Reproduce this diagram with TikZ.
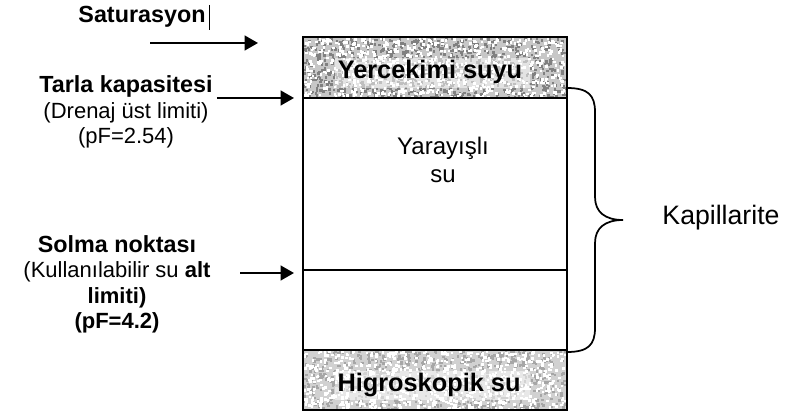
\documentclass[tikz,border=0pt]{standalone}
\usepackage{fontspec}
\setmainfont{Liberation Sans}
\usetikzlibrary{arrows.meta}
\begin{document}
\begin{tikzpicture}[x=0.75pt,y=-0.75pt,
  lbl/.style={font=\fontsize{17.5}{20}\selectfont\bfseries, inner sep=0pt, anchor=center},
  sub/.style={font=\fontsize{16.5}{19}\selectfont, inner sep=0pt, anchor=center},
  band/.style={font=\fontsize{19}{22}\selectfont\bfseries, inner sep=0pt},
  arr/.style={line width=1.6pt, -{Triangle[length=10pt,width=11pt]}},
  boxline/.style={line width=1.2pt}]
\useasboundingbox (0,0) rectangle (787,416);
% textured bands
\fill[black!22] (303,37) rectangle (567,98);
\fill[black!18] (303,350) rectangle (567,410);
\pgfmathsetseed{7}
\foreach \i in {1,...,1000}{
  \pgfmathsetmacro{\xx}{303+rnd*261}
  \pgfmathsetmacro{\yy}{37+rnd*59}
  \fill[black!50] (\xx,\yy) rectangle +(2.5,2.5);
}
\foreach \i in {1,...,700}{
  \pgfmathsetmacro{\xx}{303+rnd*261}
  \pgfmathsetmacro{\yy}{37+rnd*59}
  \fill[white] (\xx,\yy) rectangle +(2.5,2.5);
}
\foreach \i in {1,...,800}{
  \pgfmathsetmacro{\xx}{303+rnd*261}
  \pgfmathsetmacro{\yy}{350+rnd*58}
  \fill[black!35] (\xx,\yy) rectangle +(2.5,2.5);
}
\foreach \i in {1,...,800}{
  \pgfmathsetmacro{\xx}{303+rnd*261}
  \pgfmathsetmacro{\yy}{350+rnd*58}
  \fill[white] (\xx,\yy) rectangle +(2.5,2.5);
}
\fill[white, opacity=0.5] (335,58) rectangle (530,88);
\fill[white, opacity=0.5] (335,371) rectangle (530,400);
% box
\draw[boxline] (303,37) rectangle (567,410);
\draw[boxline] (303,98) -- (567,98);
\draw[boxline] (303,270) -- (567,270);
\draw[boxline] (303,350) -- (567,350);
% band labels
\node[band] (yer) at (430,72) {Yercekimi suyu};
\node[band] (hig) at (429,385) {Higroskopik su};
\node[font=\fontsize{18}{21}\selectfont, align=center, inner sep=0pt] (yar) at (443,160) {Yarayışlı\\su};
% left labels
\node[lbl] (sat) at (142,17) {Saturasyon};
\draw[line width=0.5pt] (209.5,5) -- (209.5,30);
\coordinate (sat1) at (150,43);
\coordinate (sat2) at (258,43);
\draw[arr] (sat1) -- (sat2);
\node[lbl] (tarla) at (126,86) {Tarla kapasitesi};
\node[sub] (dren) at (126,113) {(Drenaj üst limiti)};
\node[sub] (pf1) at (126,138) {(pF=2.54)};
\coordinate (tarE) at (294,98);
\draw[arr] (tarla.east) ++(4,0) coordinate (tarS) (tarS |- tarE) -- (tarE);
\node[lbl] (solma) at (117,244) {Solma noktası};
\node[sub] (kul) at (117,272) {(Kullanılabilir su \textbf{alt}};
\node[lbl, font=\fontsize{16.5}{19}\selectfont\bfseries] (lim) at (117,298) {limiti)};
\node[lbl, font=\fontsize{16.5}{19}\selectfont\bfseries] (pf2) at (117,323) {(pF=4.2)};
\coordinate (solS) at (240,273);
\coordinate (solE) at (294,273);
\draw[arr] (solS) -- (solE);
% brace
\draw[line width=1.3pt] (567,88) .. controls (588,88) and (595,95) .. (595,112)
  -- (595,197) .. controls (595,212) and (605,220) .. (623,220)
  .. controls (605,220) and (595,228) .. (595,243)
  -- (595,328) .. controls (595,345) and (588,352) .. (567,352);
\node[font=\fontsize{20}{23}\selectfont, inner sep=0pt] (kap) at (721,218) {Kapillarite};
\end{tikzpicture}
\end{document}
